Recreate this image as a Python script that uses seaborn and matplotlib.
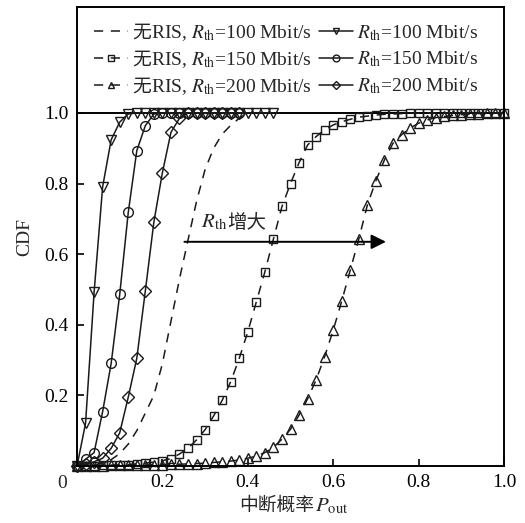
import numpy as np
import pandas as pd
import matplotlib
matplotlib.use("Agg")
import matplotlib.pyplot as plt
import seaborn as sns

# ---- data ------------------------------------------------------------------
# RIS-assisted curves (solid)
ris100_x = [0.00, 0.02, 0.04, 0.06, 0.08, 0.10, 0.12, 0.14, 0.16, 0.18, 0.20, 0.22,
            0.24, 0.26, 0.28, 0.30, 0.32, 0.34, 0.36, 0.38, 0.40, 0.42, 0.44, 0.46]
ris100_y = [0.000, 0.121, 0.492, 0.791, 0.924, 0.974, 0.997, 1.0, 1.0, 1.0, 1.0, 1.0,
            1.0, 1.0, 1.0, 1.0, 1.0, 1.0, 1.0, 1.0, 1.0, 1.0, 1.0, 1.0]

ris150_x = [0.00, 0.02, 0.04, 0.06, 0.08, 0.10, 0.12, 0.14, 0.16, 0.18, 0.20,
            0.22, 0.24, 0.26, 0.28, 0.30, 0.32, 0.34, 0.36, 0.38]
ris150_y = [0.000, 0.019, 0.038, 0.154, 0.291, 0.486, 0.718, 0.893, 0.964, 0.997, 1.0,
            1.0, 1.0, 1.0, 1.0, 1.0, 1.0, 1.0, 1.0, 1.0]

ris200_x = [0.00, 0.02, 0.04, 0.06, 0.08, 0.10, 0.12, 0.14, 0.16, 0.18, 0.20,
            0.22, 0.24, 0.26, 0.28, 0.30, 0.32, 0.34, 0.36, 0.38]
ris200_y = [0.000, 0.005, 0.012, 0.022, 0.050, 0.094, 0.195, 0.305, 0.496, 0.691, 0.831,
            0.945, 0.985, 1.0, 1.0, 1.0, 1.0, 1.0, 1.0, 1.0]

# without RIS (dashed)
nris100_x = [0.00, 0.02, 0.04, 0.06, 0.08, 0.10, 0.12, 0.14, 0.16, 0.18, 0.20,
             0.22, 0.24, 0.26, 0.28, 0.30, 0.32, 0.34, 0.36, 0.38, 0.40]
nris100_y = [0.000, 0.001, 0.003, 0.008, 0.018, 0.035, 0.062, 0.100, 0.150, 0.200, 0.290,
             0.410, 0.530, 0.640, 0.750, 0.840, 0.900, 0.940, 0.965, 0.985, 1.0]

grid_x = [0.00, 0.02, 0.04, 0.06, 0.08, 0.10, 0.12, 0.14, 0.16, 0.18,
          0.20, 0.22, 0.24, 0.26, 0.28, 0.30, 0.32, 0.34, 0.36, 0.38,
          0.40, 0.42, 0.44, 0.46, 0.48, 0.50, 0.52, 0.54, 0.56, 0.58,
          0.60, 0.62, 0.64, 0.66, 0.68, 0.70, 0.72, 0.74, 0.76, 0.78,
          0.80, 0.82, 0.84, 0.86, 0.88, 0.90, 0.92, 0.94, 0.96, 0.98, 1.00]
nris150_y = [0.000, 0.001, 0.001, 0.002, 0.002, 0.003, 0.004, 0.006, 0.008, 0.011,
             0.015, 0.021, 0.034, 0.050, 0.074, 0.103, 0.142, 0.186, 0.239, 0.305,
             0.380, 0.465, 0.550, 0.643, 0.735, 0.800, 0.859, 0.909, 0.933, 0.952,
             0.966, 0.975, 0.982, 0.988, 0.991, 0.994, 0.996, 0.997, 0.998, 0.999,
             0.999, 1.0, 1.0, 1.0, 1.0, 1.0, 1.0, 1.0, 1.0, 1.0, 1.0]
nris200_y = [0.000, 0.001, 0.001, 0.001, 0.002, 0.002, 0.002, 0.003, 0.003, 0.004,
             0.004, 0.005, 0.005, 0.006, 0.007, 0.008, 0.010, 0.012, 0.014, 0.017,
             0.022, 0.028, 0.038, 0.053, 0.076, 0.104, 0.144, 0.190, 0.244, 0.310,
             0.385, 0.467, 0.555, 0.643, 0.739, 0.808, 0.867, 0.914, 0.938, 0.957,
             0.971, 0.980, 0.987, 0.990, 0.993, 0.995, 0.997, 0.998, 0.999, 1.0, 1.0]

X_TICKS = [0.2, 0.4, 0.6, 0.8, 1.0]
Y_TICKS = [0.2, 0.4, 0.6, 0.8, 1.0]

NO_RIS = "无"
RATES = ["100", "150", "200"]

# ---- style ------------------------------------------------------------------
sns.set_style("ticks")
plt.rcParams["font.family"] = ["Liberation Serif", "Noto Sans CJK SC"]
plt.rcParams["mathtext.fontset"] = "stix"
plt.rcParams["axes.linewidth"] = 1.4
CJK = ["Noto Sans CJK SC"]

fig = plt.figure(figsize=(5.25, 5.23), dpi=100)
ax = fig.add_axes([0.1467, 0.109, 0.8133, 0.8776])

INK = "#1a1a1a"
common = dict(color=INK, lw=1.1, ms=7, mfc="none", mec=INK, mew=1.0)
dash = (0, (6, 5))

series = [
    (nris100_x, nris100_y, dict(linestyle=dash, marker=None),
     "RIS, $R_{\\rm th}$=%s Mbit/s" % RATES[0]),
    (grid_x, nris150_y, dict(linestyle=dash, marker="s", ms=6),
     "RIS, $R_{\\rm th}$=%s Mbit/s" % RATES[1]),
    (grid_x, nris200_y, dict(linestyle=dash, marker="^"),
     "RIS, $R_{\\rm th}$=%s Mbit/s" % RATES[2]),
    (ris100_x, ris100_y, dict(linestyle="-", marker="v"),
     "$R_{\\rm th}$=%s Mbit/s" % RATES[0]),
    (ris150_x, ris150_y, dict(linestyle="-", marker="o"),
     "$R_{\\rm th}$=%s Mbit/s" % RATES[1]),
    (ris200_x, ris200_y, dict(linestyle="-", marker="D", ms=6),
     "$R_{\\rm th}$=%s Mbit/s" % RATES[2]),
]

handles = []
for xs, ys, kw, label in series:
    df = pd.DataFrame({"x": xs, "y": ys})
    opts = dict(common)
    opts.update(kw)
    sns.lineplot(data=df, x="x", y="y", ax=ax, label=label, clip_on=False, **opts)
    handles.append(ax.get_lines()[-1])

# upper frame line (legend box sits above CDF = 1)
ax.axhline(1.0, color="black", lw=1.4, zorder=1)

ax.set_xlim(0, 1)
ax.set_ylim(0, 1.3)
ax.set_xticks(X_TICKS)
ax.set_xticklabels([f"{v:.1f}" for v in X_TICKS])
ax.set_yticks(Y_TICKS)
ax.set_yticklabels([f"{v:.1f}" for v in Y_TICKS])
ax.tick_params(direction="in", length=5, width=1.2, labelsize=14, colors="black",
               pad=6)
for sp in ax.spines.values():
    sp.set_visible(True)
    sp.set_color("black")
ax.text(-0.035, -0.05, "0", fontsize=14, ha="center", va="center",
        transform=ax.transData)

# x label: CJK part + math part side by side (mathtext has no CJK fallback)
ax.set_xlabel("")
ax.set_ylabel("CDF", fontsize=14, labelpad=8)
ax.text(0.555, -0.098, "中断概率", family=CJK, fontsize=13.5, ha="right",
        va="baseline", transform=ax.transAxes)
ax.text(0.557, -0.098, "$P_{\\rm out}$", fontsize=15, ha="left",
        va="baseline", transform=ax.transAxes)

# legend: two separate columns; left column leaves room for "无"
leg_kw = dict(loc="upper left", frameon=False, fontsize=14, handlelength=1.75,
              labelspacing=0.36, borderpad=0, borderaxespad=0, markerscale=0.7)
leg1 = ax.legend(handles=handles[:3], labels=[s[3] for s in series[:3]],
                 bbox_to_anchor=(0.04, 0.965), handletextpad=1.2, **leg_kw)
ax.add_artist(leg1)
leg2 = ax.legend(handles=handles[3:], labels=[s[3] for s in series[3:]],
                 bbox_to_anchor=(0.566, 0.965), handletextpad=0.2, **leg_kw)
for txt in leg1.get_texts():
    ax.annotate(NO_RIS, xy=(0.0, 0.26), xycoords=txt, family=CJK,
                fontsize=13.5, ha="right", va="baseline",
                xytext=(-0.5, 0), textcoords="offset points", zorder=7)

# trend arrow
ax.annotate("", xy=(0.73, 0.635), xytext=(0.245, 0.635),
            arrowprops=dict(arrowstyle="-|>", color="black", lw=1.4,
                            mutation_scale=22))
rt = ax.text(0.29, 0.675, "$R_{\\rm th}$", fontsize=15, ha="left", va="baseline")
ax.annotate("增大", xy=(1.0, 0.675), xycoords=(rt, "data"), family=CJK,
            fontsize=14, ha="left", va="baseline")

fig.savefig("out.png", dpi=100)
